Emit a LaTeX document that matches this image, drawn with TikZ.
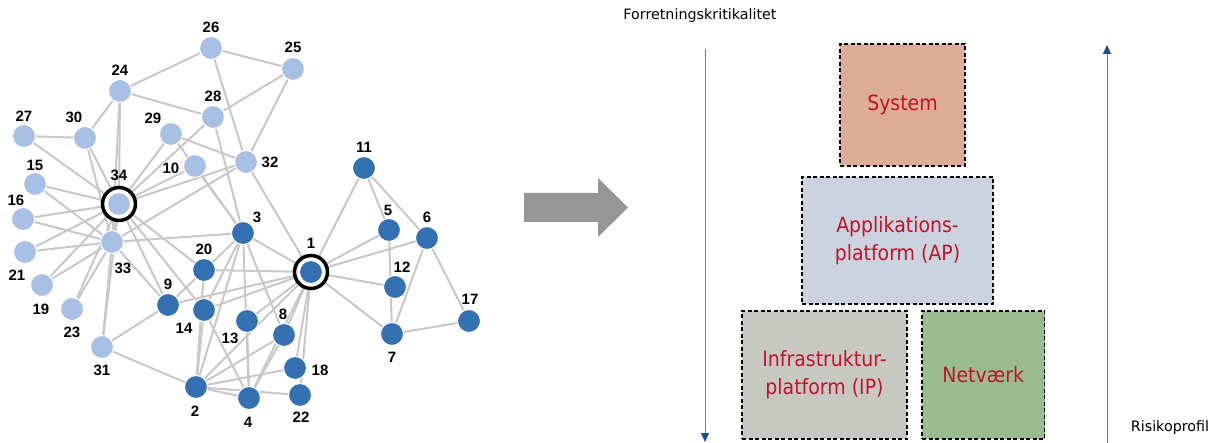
\documentclass[tikz,border=0pt]{standalone}
\usepackage{fontspec}
\setmainfont{DejaVu Sans}
\newfontfamily\lblfont{Liberation Sans}
\usetikzlibrary{arrows.meta,backgrounds}
\definecolor{lb}{RGB}{168,192,228}
\definecolor{db}{RGB}{51,113,178}
\definecolor{edgegray}{RGB}{200,200,200}
\definecolor{sysfill}{RGB}{221,172,152}
\definecolor{apfill}{RGB}{202,211,223}
\definecolor{ipfill}{RGB}{200,200,195}
\definecolor{netfill}{RGB}{152,188,142}
\definecolor{boxred}{RGB}{192,20,40}
\definecolor{arrowgray}{RGB}{150,150,150}
\definecolor{linblue}{RGB}{80,130,190}
\definecolor{headblue}{RGB}{30,80,150}
\newcommand{\narrowtxt}[1]{\scalebox{0.9}[1]{#1}}
\tikzset{
  gnode/.style={circle, draw=white, line width=1pt, minimum size=23pt, inner sep=0pt},
  lnode/.style={gnode, fill=lb},
  dnode/.style={gnode, fill=db},
  ringnode/.style={circle, draw=black, fill=white, line width=3.5pt, minimum size=33pt, inner sep=0pt},
  lbl/.style={font=\lblfont\bfseries\fontsize{15}{15}\selectfont, inner sep=0pt},
  gedge/.style={draw=edgegray, line width=2pt},
  layerbox/.style={draw=black, dash pattern=on 4pt off 2.5pt, line width=1.3pt, inner sep=0pt, align=center, text=boxred, font=\fontsize{21}{28}\selectfont},
  axislabel/.style={font=\fontsize{14.3}{17}\selectfont, inner sep=0pt},
  bluearrow/.style={draw=linblue, line width=1pt, -{Triangle[length=9pt,width=8pt,color=headblue]}}
}
\begin{document}
\begin{tikzpicture}[x=1pt,y=-1pt]
\useasboundingbox (0,0) rectangle (1210,443);
% highlight rings
\node[ringnode] (r1) at (311,272) {};
\node[ringnode] (r34) at (119,204) {};
% graph nodes
\foreach \i/\x/\y/\s in {
  1/311/272/dnode, 2/196/387/dnode, 3/243/233/dnode, 4/249/398/dnode,
  5/389/230/dnode, 6/427/238/dnode, 7/392/334/dnode, 8/284/335/dnode,
  9/168/305/dnode, 10/195/166/lnode, 11/364/168/dnode, 12/395/287/dnode,
  13/247/321/dnode, 14/204/310/dnode, 15/35/184/lnode, 16/23/219/lnode,
  17/469/321/dnode, 18/295/368/dnode, 19/42/285/lnode, 20/204/270/dnode,
  21/25/252/lnode, 22/300/395/dnode, 23/72/309/lnode, 24/120/91/lnode,
  25/293/69/lnode, 26/211/48/lnode, 27/24/136/lnode, 28/213/117/lnode,
  29/171/134/lnode, 30/85/138/lnode, 31/102/347/lnode, 32/246/162/lnode,
  33/112/242/lnode, 34/119/204/lnode}
  \node[\s] (n\i) at (\x,\y) {};
% labels
\foreach \i/\x/\y in {
  1/311/243, 2/195/411, 3/257/217, 4/248/422, 5/388/210, 6/427/217,
  7/392/357, 8/283/314, 9/168/284, 10/171/168, 11/364/147, 12/402/267,
  13/230/338, 14/184/328, 15/35/165, 16/16/200, 17/470/299, 18/320/370,
  19/41/309, 20/204/249, 21/17/275, 22/301/417, 23/72/332, 24/120/70,
  25/293/47, 26/211/27, 27/24/116, 28/213/96, 29/153/118, 30/74/117,
  31/102/370, 32/270/162, 33/123/268, 34/119/175}
  \node[lbl] (l\i) at (\x,\y) {\i};
% edges
\begin{pgfonlayer}{background}
\foreach \a/\b in {
  1/2,1/3,1/4,1/5,1/6,1/7,1/8,1/9,1/11,1/12,1/13,1/14,1/18,1/20,1/22,1/32,
  2/3,2/4,2/8,2/14,2/18,2/20,2/22,2/31,
  3/4,3/8,3/9,3/10,3/14,3/28,3/29,3/33,
  4/8,4/13,4/14,
  5/7,5/11,
  6/7,6/11,6/17,
  7/17,
  9/31,9/33,9/34,
  10/34,14/34,15/33,15/34,16/33,16/34,19/33,19/34,20/34,21/33,21/34,23/33,23/34,
  24/26,24/28,24/30,24/33,24/34,
  25/26,25/28,25/32,
  26/32,27/30,27/34,28/34,29/32,29/34,30/33,30/34,31/33,31/34,32/33,32/34,33/34}
  \draw[gedge] (n\a.center) -- (n\b.center);
\end{pgfonlayer}
% big gray arrow
\fill[arrowgray] (524,193) -- (598,193) -- (598,178) -- (628,207.5) -- (598,237) -- (598,222) -- (524,222) -- cycle;
% axis labels and arrows
\node[axislabel] (fk) at (700,16) {Forretningskritikalitet};
\node[axislabel] (risk) at (1170,428) {Risikoprofil};
\coordinate (fktop) at (705,49);
\coordinate (fkbot) at (705,442);
\draw[bluearrow] (fktop) -- (fkbot);
\coordinate (rbot) at (1107,443);
\coordinate (rtop) at (1107,45);
\draw[bluearrow] (rbot) -- (rtop);
% layer boxes
\node[layerbox, fill=sysfill, minimum width=125pt, minimum height=122pt] (sys) at (902.5,105) {\narrowtxt{System}};
\node[layerbox, fill=apfill, minimum width=191pt, minimum height=127pt] (ap) at (897.5,240.5) {\narrowtxt{Applikations-}\\\narrowtxt{platform (AP)}};
\node[layerbox, fill=ipfill, minimum width=165pt, minimum height=128pt] (ip) at (824.5,375) {\narrowtxt{Infrastruktur-}\\\narrowtxt{platform (IP)}};
\node[layerbox, fill=netfill, minimum width=122.5pt, minimum height=128pt] (net) at (983.25,375) {\narrowtxt{Netværk}};
\end{tikzpicture}
\end{document}
